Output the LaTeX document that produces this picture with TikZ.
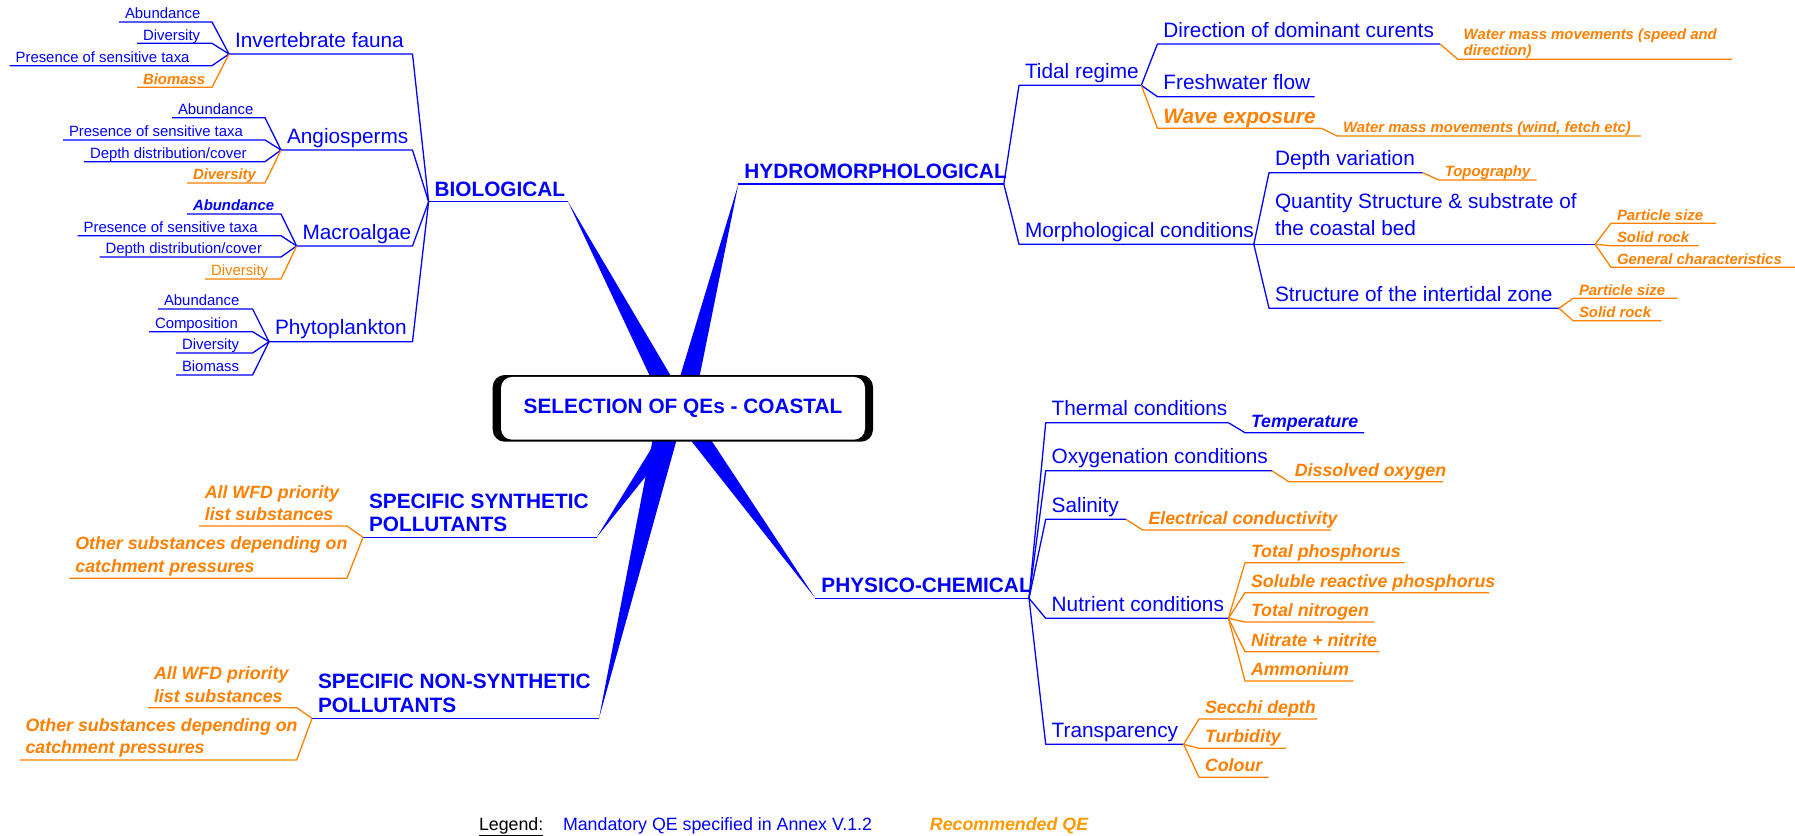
\documentclass[tikz,border=0pt]{standalone}
\usepackage{fontspec}
\setmainfont{Liberation Sans}
\usetikzlibrary{calc}
\definecolor{mblue}{RGB}{0,0,255}
\definecolor{morange}{RGB}{255,128,0}
\definecolor{lorange}{RGB}{255,153,0}
\newcommand\fbig{\fontsize{20.8}{24}\selectfont}
\newcommand\fmid{\fontsize{17.8}{22.3}\selectfont}
\newcommand\fsmall{\fontsize{14.9}{15.3}\selectfont}
\newcommand\twol[1]{\begin{tabular}[b]{@{}l@{}}#1\end{tabular}}
\tikzset{
 itm/.style={anchor=south west, inner xsep=6pt, text depth=0pt, outer sep=0pt},
 sa/.style={itm, inner ysep=6.8pt, font=\fbig},
 sab/.style={itm, inner ysep=5.7pt, font=\fbig\bfseries},
 sb/.style={itm, inner ysep=5.5pt, font=\fmid},
 sc/.style={itm, inner ysep=3.2pt, font=\fsmall},
 blu/.style={text=mblue},
 org/.style={text=morange},
 obi/.style={text=morange, execute at begin node=\bfseries\itshape},
 bbi/.style={text=mblue, execute at begin node=\bfseries\itshape},
 lnb/.style={draw=mblue, line width=1.3pt, line join=round},
 lno/.style={draw=morange, line width=1.3pt, line join=round},
}
\begin{document}
\begin{tikzpicture}[x=1pt,y=-1pt]
\useasboundingbox (0,0) rectangle (1795,835);

% ---------------- BIOLOGICAL ----------------
\node[sab,blu] (bio) at (428.6,201.7) {BIOLOGICAL};
\node[sa,blu] (inv) at (229,54) {Invertebrate fauna};
\node[sc,blu] (i1) at (119,22) {Abundance};
\node[sc,blu] (i2) at (137,43.3) {Diversity};
\node[sc,blu] (i3) at (9.6,65.7) {Presence of sensitive taxa};
\node[sc,obi] (i4) at (137,87.3) {Biomass};
\node[sa,blu] (ang) at (281,150) {Angiosperms};
\node[sc,blu] (a1) at (172,117.7) {Abundance};
\node[sc,blu] (a2) at (63,140) {Presence of sensitive taxa};
\node[sc,blu] (a3) at (84,161.7) {Depth distribution/cover};
\node[sc,obi] (a4) at (187,183) {Diversity};
\node[sa,blu] (mac) at (296.6,246) {Macroalgae};
\node[sc,bbi] (m1) at (187,214) {Abundance};
\node[sc,blu] (m2) at (77.7,235.7) {Presence of sensitive taxa};
\node[sc,blu] (m3) at (99.5,257) {Depth distribution/cover};
\node[sc,org] (m4) at (205,279) {Diversity};
\node[sa,blu] (phy) at (269,341.7) {Phytoplankton};
\node[sc,blu] (p1) at (158,309) {Abundance};
\node[sc,blu] (p2) at (149,331.7) {Composition};
\node[sc,blu] (p3) at (176,353) {Diversity};
\node[sc,blu] (p4) at (176,375) {Biomass};

\draw[lnb] (bio.south west) -- ++(139.4,0) coordinate (bioE);
\draw[lnb] (inv.south west) -- ++(183.5,0) -- (bio.south west);
\draw[lnb] (ang.south west) -- ++(131.5,0) -- (bio.south west);
\draw[lnb] (mac.south west) -- ++(115.9,0) -- (bio.south west);
\draw[lnb] (phy.south west) -- ++(143.5,0) -- (bio.south west);
\foreach \n/\l in {i1/93,i2/75,i3/202.4} \draw[lnb] (\n.south west) -- ++(\l,0) -- (inv.south west);
\draw[lno] (i4.south west) -- ++(75,0) -- (inv.south west);
\foreach \n/\l in {a1/93,a2/202,a3/181} \draw[lnb] (\n.south west) -- ++(\l,0) -- (ang.south west);
\draw[lno] (a4.south west) -- ++(78,0) -- (ang.south west);
\foreach \n/\l in {m1/94,m2/203.3,m3/181.5} \draw[lnb] (\n.south west) -- ++(\l,0) -- (mac.south west);
\draw[lno] (m4.south west) -- ++(76,0) -- (mac.south west);
\foreach \n/\l in {p1/94.6,p2/103.6,p3/76.6,p4/76.6} \draw[lnb] (\n.south west) -- ++(\l,0) -- (phy.south west);

% ---------------- HYDROMORPHOLOGICAL ----------------
\node[sab,blu] (hyd) at (738.4,184) {HYDROMORPHOLOGICAL};
\node[sa,blu] (tid) at (1019,85.3) {Tidal regime};
\node[sa,blu] (dir) at (1157.4,44) {Direction of dominant curents};
\node[sc,obi,inner ysep=4pt] (wm1) at (1457.7,59.3) {\twol{Water mass movements (speed and\\direction)}};
\node[sa,blu] (fw) at (1157.4,96.7) {Freshwater flow};
\node[sa,obi,inner ysep=5.2pt] (wav) at (1157.4,128.3) {Wave exposure};
\node[sc,obi] (wm2) at (1337,136) {Water mass movements (wind, fetch etc)};
\node[sa,blu] (mor) at (1019,244.3) {Morphological conditions};
\node[sa,blu] (dv) at (1269,172.7) {Depth variation};
\node[sc,obi] (topo) at (1438.8,180) {Topography};
\node[sa,blu,inner ysep=9pt] (qs) at (1269,244.3) {\fontsize{20.8}{26.5}\selectfont\twol{Quantity Structure \& substrate of\\the coastal bed}};
\node[sc,obi] (ps1) at (1611,223.3) {Particle size};
\node[sc,obi] (sr1) at (1611,245.7) {Solid rock};
\node[sc,obi] (gc) at (1611,267.3) {General characteristics};
\node[sa,blu] (st) at (1269,308.3) {Structure of the intertidal zone};
\node[sc,obi] (ps2) at (1573,298.3) {Particle size};
\node[sc,obi] (sr2) at (1573,320.7) {Solid rock};

\draw[lnb] (hyd.south west) -- ++(265.4,0) coordinate (hydE);
\draw[lnb] (hydE) -- (tid.south west) -- ++(122.3,0) coordinate (tidE);
\draw[lnb] (hydE) -- (mor.south west) -- ++(234.8,0) coordinate (morE);
\draw[lnb] (tidE) -- (dir.south west) -- ++(282.6,0) coordinate (dirE);
\draw[lno] (dirE) -- (wm1.south west) -- ++(274.3,0);
\draw[lnb] (tidE) -- (fw.south west) -- ++(157.1,0);
\draw[lno] (tidE) -- (wav.south west) -- ++(164.1,0) coordinate (wavE);
\draw[lno] (wavE) -- (wm2.south west) -- ++(304,0);
\draw[lnb] (morE) -- (dv.south west) -- ++(153.7,0) coordinate (dvE);
\draw[lno] (dvE) -- (topo.south west) -- ++(97.8,0);
\draw[lnb] (morE) -- (qs.south west) -- ++(326,0) coordinate (qsE);
\draw[lno] (qsE) -- (ps1.south west) -- ++(105,0);
\draw[lno] (qsE) -- (sr1.south west) -- ++(87.6,0);
\draw[lno] (qsE) -- (gc.south west) -- ++(184,0);
\draw[lnb] (morE) -- (st.south west) -- ++(290,0) coordinate (stE);
\draw[lno] (stE) -- (ps2.south west) -- ++(104.6,0);
\draw[lno] (stE) -- (sr2.south west) -- ++(88.6,0);

% ---------------- PHYSICO-CHEMICAL ----------------
\node[sab,blu] (pc) at (815.4,598.3) {PHYSICO-CHEMICAL};
\node[sa,blu] (th) at (1045.7,422.7) {Thermal conditions};
\node[sb,bbi] (tem) at (1245,432.7) {Temperature};
\node[sa,blu] (ox) at (1045.7,470.7) {Oxygenation conditions};
\node[sb,obi] (dox) at (1288.8,481.7) {Dissolved oxygen};
\node[sa,blu] (sal) at (1045.7,519.3) {Salinity};
\node[sb,obi] (ec) at (1142.5,530) {Electrical conductivity};
\node[sa,blu] (nut) at (1045.7,618.3) {Nutrient conditions};
\node[sb,obi] (n1) at (1245,562.7) {Total phosphorus};
\node[sb,obi] (n2) at (1245,592.7) {Soluble reactive phosphorus};
\node[sb,obi] (n3) at (1245,622) {Total nitrogen};
\node[sb,obi] (n4) at (1245,651.7) {Nitrate + nitrite};
\node[sb,obi] (n5) at (1245,681) {Ammonium};
\node[sa,blu] (tr) at (1045.7,744.3) {Transparency};
\node[sb,obi] (t1) at (1199,719) {Secchi depth};
\node[sb,obi] (t2) at (1199,748.3) {Turbidity};
\node[sb,obi] (t3) at (1199,777.3) {Colour};

\draw[lnb] (pc.south west) -- ++(213.6,0) coordinate (pcE);
\draw[lnb] (pcE) -- (th.south west) -- ++(182.7,0) coordinate (thE);
\draw[lnb] (thE) -- (tem.south west) -- ++(119,0);
\draw[lnb] (pcE) -- (ox.south west) -- ++(226.1,0) coordinate (oxE);
\draw[lno] (oxE) -- (dox.south west) -- ++(154.2,0);
\draw[lnb] (pcE) -- (sal.south west) -- ++(80.3,0) coordinate (salE);
\draw[lno] (salE) -- (ec.south west) -- ++(188.5,0);
\draw[lnb] (pcE) -- (nut.south west) -- ++(182.7,0) coordinate (nutE);
\foreach \n/\l in {n1/159.5,n2/244,n3/129,n4/134.4,n5/108.5} \draw[lno] (nutE) -- (\n.south west) -- ++(\l,0);
\draw[lnb] (pcE) -- (tr.south west) -- ++(137.9,0) coordinate (trE);
\foreach \n/\l in {t1/118,t2/87,t3/69.5} \draw[lno] (trE) -- (\n.south west) -- ++(\l,0);

% ---------------- SPECIFIC POLLUTANTS ----------------
\node[sab,blu,inner ysep=6pt] (syn) at (363,537.3) {\fontsize{20.8}{23.3}\selectfont\twol{SPECIFIC SYNTHETIC\\POLLUTANTS}};
\node[sb,obi] (sy1) at (198.8,526) {\twol{All WFD priority\\list substances}};
\node[sb,obi,inner ysep=6.2pt] (sy2) at (69.4,578.3) {\twol{Other substances depending on\\catchment pressures}};
\node[sab,blu,inner ysep=6pt] (nsy) at (312,718.3) {\fontsize{20.8}{24}\selectfont\twol{SPECIFIC NON-SYNTHETIC\\POLLUTANTS}};
\node[sb,obi] (ns1) at (148,707.7) {\twol{All WFD priority\\list substances}};
\node[sb,obi,inner ysep=6.2pt] (ns2) at (19.6,760) {\twol{Other substances depending on\\catchment pressures}};

\draw[lnb] (syn.south west) -- ++(233.7,0) coordinate (synE);
\draw[lno] (sy1.south west) -- ++(148.1,0) -- (syn.south west);
\draw[lno] (sy2.south west) -- ++(277.5,0) -- (syn.south west);
\draw[lnb] (nsy.south west) -- ++(287,0) coordinate (nsyE);
\draw[lno] (ns1.south west) -- ++(148.7,0) -- (nsy.south west);
\draw[lno] (ns2.south west) -- ++(277.1,0) -- (nsy.south west);

% ---------------- wedges to the centre ----------------
\coordinate (hydW) at (hyd.south west);
\coordinate (pcW) at (pc.south west);
\coordinate (kBio) at (677,408);
\coordinate (kHyd) at (682,408);
\coordinate (kPc) at (678,408);
\coordinate (kSyn) at (688,408);
\coordinate (kNsy) at (672,408);
\foreach \t/\k/\w in {bioE/kBio/11pt, hydW/kHyd/11pt, pcW/kPc/10pt, synE/kSyn/10pt, nsyE/kNsy/13pt}
  \fill[mblue] (\t) -- ($(\k)!\w!90:(\t)$) -- ($(\k)!\w!-90:(\t)$) -- cycle;

% ---------------- centre box ----------------
\fill[black, rounded corners=12pt] (492.7,375) rectangle (873,441.7);
\node[fill=white, rounded corners=11pt, minimum width=364pt, minimum height=62.7pt, inner sep=0pt,
      font=\fbig\bfseries, text=mblue] (root) at (683,408.3) {SELECTION OF QEs - COASTAL};

% ---------------- legend ----------------
\node[anchor=base west, inner sep=0pt, font=\fmid] (leg) at (478.8,830) {\underline{Legend:}};
\node[anchor=base west, inner sep=0pt, font=\fmid, text=mblue] (lman) at (562.8,830) {Mandatory QE specified in Annex V.1.2};
\node[anchor=base west, inner sep=0pt, font=\fmid\bfseries\itshape, text=lorange] (lrec) at (929.7,830) {Recommended QE};
\end{tikzpicture}
\end{document}
